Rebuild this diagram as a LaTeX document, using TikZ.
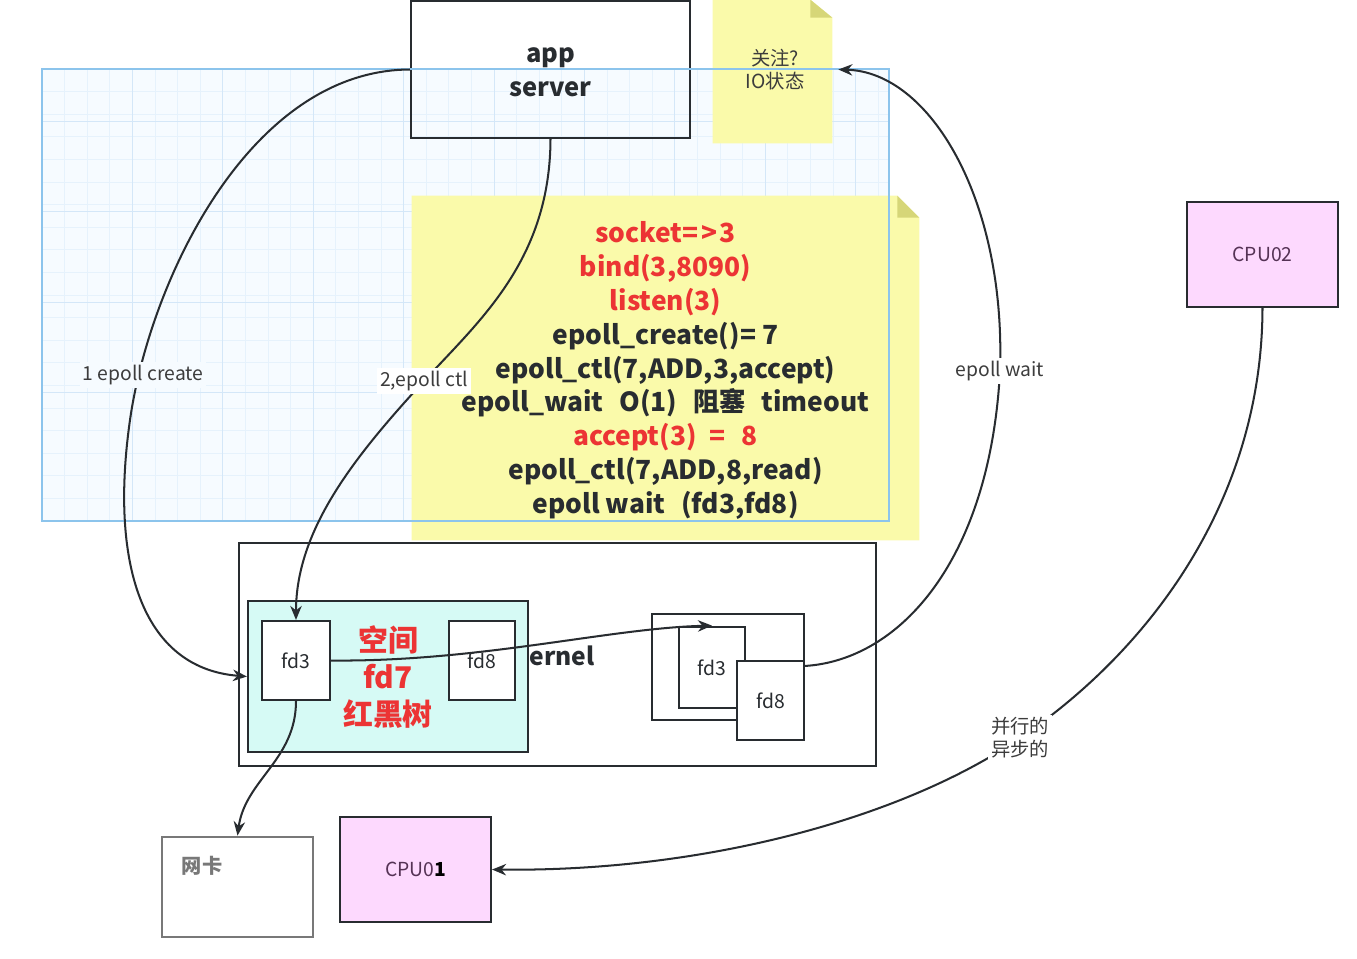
\documentclass[tikz,border=0pt]{standalone}
\usepackage{fontspec}
\setmainfont{Noto Sans CJK SC}
\usetikzlibrary{arrows.meta,calc}
\definecolor{ink}{RGB}{40,44,48}
\definecolor{redtxt}{RGB}{236,52,52}
\definecolor{noteyellow}{RGB}{250,250,170}
\definecolor{notefold}{RGB}{214,214,120}
\definecolor{gridbg}{RGB}{246,251,255}
\definecolor{gridminor}{RGB}{230,242,252}
\definecolor{gridmajor}{RGB}{212,231,248}
\definecolor{selblue}{RGB}{140,196,236}
\definecolor{teal}{RGB}{214,250,245}
\definecolor{pinkfill}{RGB}{253,217,254}
\definecolor{cputxt}{RGB}{85,50,85}
\definecolor{lbltxt}{RGB}{60,60,60}
\definecolor{graybox}{RGB}{120,120,120}
\begin{document}
\begin{tikzpicture}[x=0.02cm,y=-0.02cm,
  box/.style={draw=ink,line width=1.2pt,inner sep=0pt},
  fdbox/.style={box,fill=white,font=\fontsize{11}{12}\selectfont,text=ink},
  cpubox/.style={box,fill=pinkfill,minimum width=3.02cm,minimum height=2.1cm,font=\fontsize{11}{12}\selectfont,text=cputxt},
  conn/.style={draw=ink,line width=1.15pt,-{Stealth[length=8pt,width=6.5pt]}},
  lbl/.style={fill=white,inner sep=1.5pt,font=\fontsize{11}{12}\selectfont,text=lbltxt,align=center},
  notetxt/.style={align=center,font=\fontsize{15}{19.3}\selectfont\bfseries,text=ink},
]
\useasboundingbox (0,0) rectangle (1357,958);
\fill[white] (0,0) rectangle (1357,958);

% grid selection area
\fill[gridbg] (42,69) rectangle (889,521);
\foreach \i in {1,...,37} {
  \pgfmathsetmacro{\xx}{42+22.6*\i}
  \draw[gridminor,line width=0.4pt] (\xx,69) -- (\xx,521);
}
\foreach \i in {1,...,19} {
  \pgfmathsetmacro{\yy}{69+22.6*\i}
  \draw[gridminor,line width=0.4pt] (42,\yy) -- (889,\yy);
}
\foreach \i in {1,...,9} {
  \pgfmathsetmacro{\xx}{42+90.4*\i}
  \draw[gridmajor,line width=0.5pt] (\xx,69) -- (\xx,521);
}
\foreach \i in {1,...,4} {
  \pgfmathsetmacro{\yy}{31+90.4*\i}
  \draw[gridmajor,line width=0.5pt] (42,\yy) -- (889,\yy);
}

% app server
\node[box,minimum width=5.58cm,minimum height=2.74cm] (app) at (550.5,69.5) {};
\node[align=center,font=\fontsize{14.5}{19.3}\selectfont\bfseries,text=ink] (apptxt) at (550.5,72) {app\\server};

% small note
\node[inner sep=0pt,minimum width=2.38cm,minimum height=2.86cm] (note1) at (772.5,71.5) {};
\fill[noteyellow] (note1.south west) -- (note1.north west) -- ($(note1.north east)+(-22,0)$)
  -- ($(note1.north east)+(0,18)$) -- (note1.south east) -- cycle;
\fill[notefold] ($(note1.north east)+(-22,0)$) -- ($(note1.north east)+(-22,18)$) -- ($(note1.north east)+(0,18)$) -- cycle;
\node[align=center,font=\fontsize{11}{13}\selectfont,text=lbltxt] (note1t) at (775,70) {关注?\\IO状态};

% big note
\node[inner sep=0pt,minimum width=10.14cm,minimum height=6.88cm] (note2) at (665.5,368) {};
\fill[noteyellow] (note2.south west) -- (note2.north west) -- ($(note2.north east)+(-22,0)$)
  -- ($(note2.north east)+(0,22)$) -- (note2.south east) -- cycle;
\fill[notefold] ($(note2.north east)+(-22,0)$) -- ($(note2.north east)+(-22,22)$) -- ($(note2.north east)+(0,22)$) -- cycle;
\node[notetxt] (note2t) at (665.5,370.5) {%
  \textcolor{redtxt}{socket=\hspace{0.1em}>\hspace{0.1em}3}\\
  \textcolor{redtxt}{bind(3,8090)}\\
  \textcolor{redtxt}{listen(3)}\\
  epoll\_create()= 7\\
  epoll\_ctl(7,ADD,3,accept)\\
  epoll\_wait\hspace{0.6em}O(1)\hspace{0.6em}阻塞\hspace{0.6em}timeout\\
  \textcolor{redtxt}{accept(3)\hspace{0.5em}=\hspace{0.6em}8}\\
  epoll\_ctl(7,ADD,8,read)\\
  epoll wait\hspace{0.6em}(fd3,fd8)};

% selection border on top
\draw[selblue,line width=0.9pt] (42,69) rectangle (889,521);

% kernel
\node[box,fill=white,minimum width=12.74cm,minimum height=4.46cm] (kernel) at (557.5,654.5) {};
\node[anchor=west,inner sep=0pt,font=\fontsize{14}{16}\selectfont\bfseries,text=ink] (kerneltxt) at (529,656) {ernel};
\node[box,fill=teal,minimum width=5.6cm,minimum height=3.02cm] (rb) at (388,676.5) {};
\node[align=center,font=\fontsize{17}{21}\selectfont\bfseries,text=redtxt] (rbtxt) at (388,677) {空间\\fd7\\红黑树};
\node[fdbox,minimum width=1.36cm,minimum height=1.58cm] (fd3L) at (296,660.5) {fd3};
\node[fdbox,minimum width=1.32cm,minimum height=1.58cm] (fd8L) at (482,660.5) {fd8};

\node[box,fill=white,minimum width=3.04cm,minimum height=2.12cm] (outerR) at (728,667) {};
\node[fdbox,line width=1.6pt,minimum width=1.32cm,minimum height=1.62cm] (fd3R) at (712,667.5) {fd3};
\node[fdbox,minimum width=1.34cm,minimum height=1.58cm] (fd8R) at (770.5,700.5) {fd8};

% bottom boxes
\node[draw=graybox,line width=1.6pt,fill=white,minimum width=3.02cm,minimum height=2.0cm,inner sep=0pt] (wk) at (237.5,887) {};
\node[font=\fontsize{11.5}{13}\selectfont\bfseries,text=graybox] (wktxt) at (202,866) {网卡};
\node[cpubox] (cpu1) at (415.5,869.5) {CPU0\textcolor{black}{\bfseries 1}};
\node[cpubox] (cpu2) at (1262.5,254.5) {CPU02};

% connectors
\draw[conn] (app.west) .. controls (250,70) and (150,280) .. (130,420)
  .. controls (110,560) and (140,668) .. (rb.west);
\node[lbl,fill=gridbg] (l1) at (143,375) {1 epoll create};

\draw[conn] (app.south) .. controls (550,260) and (480,320) .. (424,381)
  .. controls (354,457) and (296,530) .. (fd3L.north);
\node[lbl] (l2) at (424,381) {2,epoll ctl};

\draw[conn] (fd3L.south) .. controls (296,760) and (245,780) .. (wk.north);

\draw[conn] (fd3L.east) .. controls (480,662) and (610,628) .. (fd3R.north);

\draw[conn] ($(fd8R.north east)+(0,6)$) .. controls (900,660) and (990,560) .. (1000,371)
  .. controls (1006,200) and (930,72) .. ($(note1.east)+(6,-2)$);
\node[lbl] (l3) at (1000,371) {epoll wait};

\draw[conn] (cpu2.south) .. controls (1262,500) and (1150,650) .. (1020,738)
  .. controls (900,820) and (700,872) .. (cpu1.east);
\node[lbl,font=\fontsize{11}{13}\selectfont] (l4) at (1020,738) {并行的\\异步的};
\end{tikzpicture}
\end{document}
